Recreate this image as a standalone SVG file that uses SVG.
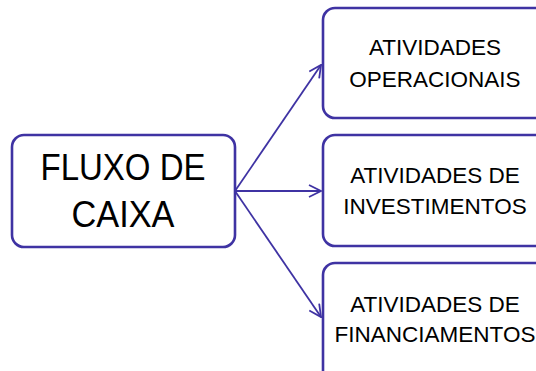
<svg xmlns="http://www.w3.org/2000/svg" width="536" height="371" viewBox="0 0 536 371">
<style>
.box{fill:#fff;stroke:#3f33a3;stroke-width:2.6}
.con{fill:none;stroke:#3f33a3;stroke-width:1.8}
.t{font-family:"Liberation Sans",Arial,sans-serif;fill:#000;text-anchor:middle}
.big{font-size:37.5px}
.sm{font-size:22.5px}
</style>
<defs>
<marker id="ah" viewBox="0 0 14 14" refX="13" refY="7" markerWidth="14" markerHeight="14" markerUnits="userSpaceOnUse" orient="auto">
<path d="M1,1 L13,7 L1,13" fill="none" stroke="#3f33a3" stroke-width="1.8"/>
</marker>
</defs>
<g id="connectors">
<line class="con" x1="235" y1="191" x2="321" y2="65" marker-end="url(#ah)"/>
<line class="con" x1="235" y1="191" x2="321" y2="191" marker-end="url(#ah)"/>
<line class="con" x1="235" y1="191" x2="321" y2="317" marker-end="url(#ah)"/>
</g>
<g id="fluxo">
<rect class="box" x="12" y="135" width="223" height="112" rx="12"/>
<text class="t big" x="123" y="180" textLength="165" lengthAdjust="spacingAndGlyphs">FLUXO DE</text>
<text class="t big" x="123" y="226.5" textLength="103" lengthAdjust="spacingAndGlyphs">CAIXA</text>
</g>
<g id="operacionais">
<rect class="box" x="323" y="8" width="226" height="110" rx="12"/>
<text class="t sm" x="435" y="55">ATIVIDADES</text>
<text class="t sm" x="435" y="87">OPERACIONAIS</text>
</g>
<g id="investimentos">
<rect class="box" x="323" y="135" width="226" height="111" rx="12"/>
<text class="t sm" x="435" y="183">ATIVIDADES DE</text>
<text class="t sm" x="435" y="214">INVESTIMENTOS</text>
</g>
<g id="financiamentos">
<rect class="box" x="323" y="263" width="226" height="120" rx="12"/>
<text class="t sm" x="435" y="312">ATIVIDADES DE</text>
<text class="t sm" x="435" y="342">FINANCIAMENTOS</text>
</g>
</svg>
